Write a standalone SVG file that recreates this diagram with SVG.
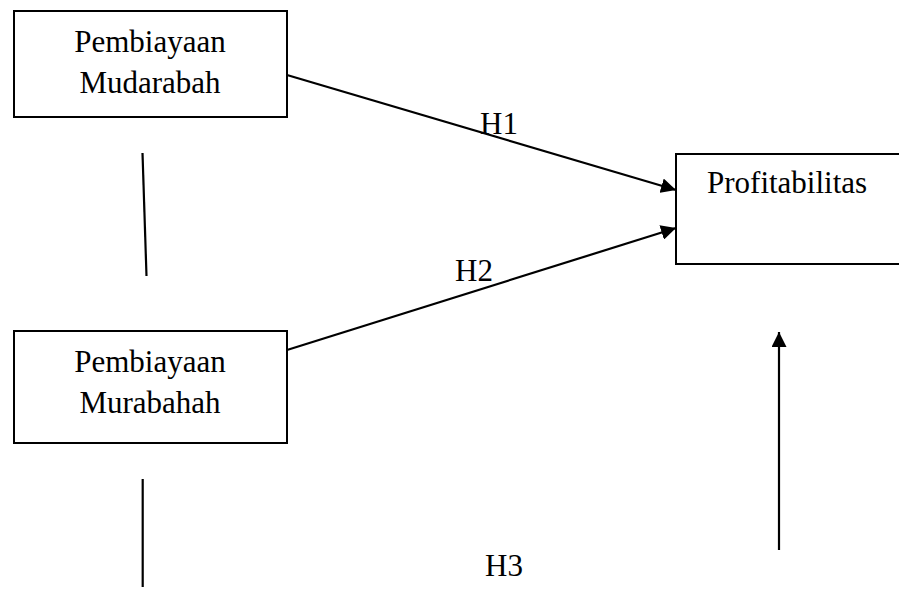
<svg xmlns="http://www.w3.org/2000/svg" width="899" height="603" viewBox="0 0 899 603">
<defs>
<style>
.box{fill:#fff;stroke:#000;stroke-width:2}
.t{font-family:"Liberation Serif","Times New Roman",serif;font-size:31px;fill:#000}
.c{stroke:#000;stroke-width:2.2;fill:none}
</style>
<marker id="ah" markerWidth="10" markerHeight="8" refX="10" refY="4" orient="auto" markerUnits="userSpaceOnUse" viewBox="0 0 10 8">
<path d="M0,0 L10,4 L0,8 z" fill="#000"/>
</marker>
<marker id="ah2" markerWidth="16" markerHeight="15" refX="15" refY="7.5" orient="auto" markerUnits="userSpaceOnUse" viewBox="0 0 16 15">
<path d="M0,0 L15,7.5 L0,15 z" fill="#000"/>
</marker>
</defs>
<rect width="899" height="603" fill="#fff"/>
<g id="mudarabah">
<rect class="box" x="14" y="11" width="273" height="106"/>
<text class="t" x="150" y="52" text-anchor="middle">Pembiayaan</text>
<text class="t" x="150" y="93" text-anchor="middle">Mudarabah</text>
</g>
<g id="murabahah">
<rect class="box" x="14" y="331" width="273" height="112"/>
<text class="t" x="150" y="372" text-anchor="middle">Pembiayaan</text>
<text class="t" x="150" y="413" text-anchor="middle">Murabahah</text>
</g>
<g id="profitabilitas">
<rect class="box" x="676" y="154" width="240" height="110"/>
<text class="t" x="707" y="193">Profitabilitas</text>
</g>
<g id="connectors">
<line class="c" x1="287" y1="75" x2="676" y2="190" marker-end="url(#ah2)"/>
<line class="c" x1="287" y1="350" x2="676" y2="228" marker-end="url(#ah2)"/>
<line class="c" x1="142.5" y1="153" x2="146.5" y2="276"/>
<line class="c" x1="142.7" y1="479" x2="142.7" y2="587"/>
<line class="c" x1="779" y1="550" x2="779" y2="332" marker-end="url(#ah2)"/>
</g>
<g id="labels">
<text class="t" x="480" y="134">H1</text>
<text class="t" x="455" y="281">H2</text>
<text class="t" x="485" y="576">H3</text>
</g>
</svg>
